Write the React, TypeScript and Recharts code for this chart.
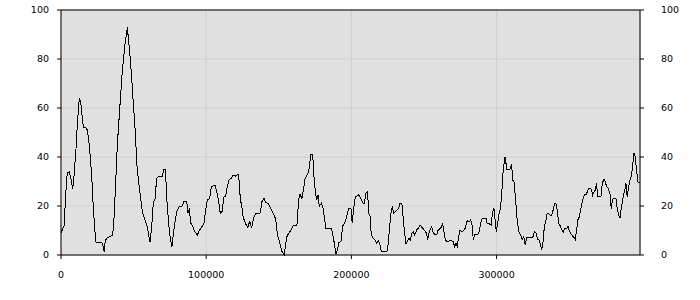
import React from "react";
import {
  LineChart,
  Line,
  XAxis,
  YAxis,
  CartesianGrid,
  ReferenceLine,
} from "recharts";

// sample position along the run
const sampleX = [
  0, 2100, 3400, 4300, 5700, 6900, 8100, 9000, 10300, 11200, 12600, 13600,
  14500, 15400, 17200, 18100, 19500, 21100, 22200, 23400, 24100, 28000, 29100,
  29800, 30500, 31900, 33300, 35600, 36500, 37700, 38800, 40600, 42200, 44100,
  45700, 46300, 47500, 48700, 49800, 50800, 51400, 52500, 54200, 56000, 57900,
  59400, 60600, 61300, 62500, 63600, 64700, 65900, 67000, 69800, 70900, 71800,
  72500, 73200, 74600, 75500, 76400, 77300, 78700, 80100, 81500, 83500, 84700,
  86600, 87500, 88400, 89300, 90400, 92100, 93900, 95500, 97300, 98500, 99700,
  100800, 102400, 103500, 104700, 106300, 107600, 108800, 109700, 110900,
  112300, 113400, 114500, 115900, 117300, 118500, 120000, 121000, 121900,
  122600, 123500, 124700, 125600, 126500, 127600, 128800, 130000, 131300,
  132700, 134100, 135700, 137300, 138400, 139800, 141000, 142600, 144100,
  146000, 147200, 148300, 149000, 150100, 151300, 152200, 153700, 154500,
  155600, 156800, 158400, 159800, 161400, 162500, 163200, 164100, 164800,
  166000, 166900, 168200, 169400, 170600, 171300, 172000, 173300, 173800,
  174400, 175100, 176100, 177000, 177900, 179300, 180600, 181600, 182500,
  186200, 187100, 188200, 189400, 190600, 191300, 192800, 194000, 195400,
  196500, 198100, 199700, 200600, 201600, 202700, 203900, 205000, 206400,
  207800, 208900, 210100, 211200, 211900, 212800, 213700, 215100, 216500,
  217400, 218800, 219700, 220600, 224500, 225400, 226600, 227500, 228400,
  229100, 230200, 231600, 232600, 233500, 234800, 235700, 236700, 237600,
  238500, 239500, 240600, 241700, 242600, 243600, 245000, 246100, 247200,
  248600, 250200, 251800, 252500, 253600, 254800, 255300, 256400, 257600,
  258700, 259800, 261500, 262900, 263800, 264700, 266000, 267400, 269100,
  270200, 271100, 272000, 272900, 273900, 274800, 276200, 277500, 278400,
  279800, 281200, 282200, 283100, 284000, 284900, 286300, 287700, 288600,
  289700, 290800, 292700, 293600, 295000, 296300, 297300, 298200, 299100,
  299800, 300800, 301600, 302800, 303700, 304600, 305800, 306500, 307000,
  309200, 310400, 311100, 312000, 313200, 313800, 314500, 315400, 316600,
  317700, 318700, 319800, 320700, 324200, 325300, 326000, 327100, 328300,
  329400, 330400, 331000, 332200, 332900, 333800, 334900, 335900, 336800,
  337900, 339000, 340000, 340900, 341800, 342800, 344100, 345000, 345900,
  347100, 348300, 349200, 350100, 351400, 352800, 354200, 355200, 355900,
  357000, 358100, 359300, 360400, 361600, 362500, 363400, 364800, 365700,
  366200, 367100, 368000, 368900, 369600, 371900, 372800, 374000, 374900,
  375800, 376900, 378100, 379000, 379900, 380800, 382200, 383100, 384100,
  385000, 385900, 386800, 387700, 388600, 389100, 390000, 391000, 391900,
  392800, 393700, 394600, 395500, 396500, 397400, 398800,
];

// measured value (percent)
const level = [
  9, 12, 26, 33.5, 34, 31, 27, 32.6, 43, 53, 64, 62.5, 57, 52, 52, 51, 45,
  32.6, 20, 9.4, 5.3, 5.3, 3.3, 1.2, 6, 7, 7.5, 8, 15, 30, 45, 61, 75, 86, 93,
  89, 81.6, 72, 62, 54, 47, 34.7, 26.5, 17.6, 14.3, 11.6, 7.5, 5.4, 11.6, 21.8,
  22.4, 31.4, 32, 32.2, 35, 35, 28, 19.7, 10.2, 6, 3.4, 8.2, 14.3, 18.4, 19.7,
  20, 21.8, 21.8, 17, 19, 13, 12.2, 9.5, 8.2, 10.2, 11.8, 13, 18.4, 22.4, 23,
  27.7, 28.2, 28.2, 25, 21, 17, 17.7, 23.8, 23.8, 27.9, 30.9, 31.3, 32.6, 32.2,
  32.6, 33, 30.6, 23.1, 19, 15, 14, 12.2, 11.3, 14, 10.9, 15, 17, 16.7, 17.3,
  21.8, 23.1, 21.3, 21.1, 19.5, 17.3, 15.9, 12.9, 8.2, 6.1, 3.4, 1.5, 0, 3.4,
  7.5, 8.8, 10.2, 11.8, 12.2, 12.2, 18.4, 24.5, 24.5, 23.1, 26.5, 31.3, 32.6,
  34, 37.4, 41.2, 41.2, 36.7, 30.6, 26.5, 22.4, 24.5, 20, 21.1, 19, 14.3, 10.9,
  10.9, 8.8, 5, 0.4, 2.7, 5, 5.4, 11.8, 12.9, 15, 19, 19, 12.9, 19, 23.8, 24.1,
  24.5, 23.1, 21.3, 21.1, 25.2, 25.8, 17, 16.3, 8.2, 6.8, 6.1, 4.8, 5.8, 4.1,
  1.3, 1.3, 4.8, 12.9, 18.4, 19.5, 17, 17.7, 18.4, 19, 21.1, 21.1, 15, 8.8,
  4.5, 5.4, 6.8, 6.1, 8.8, 9.5, 8.2, 10.2, 10.9, 12.2, 11.3, 10.2, 8.8, 6.1,
  9.5, 10.9, 11.6, 9.1, 8.2, 8.2, 10.2, 10.9, 12.7, 9.5, 6.1, 5.4, 5.8, 5.8,
  5.4, 3.4, 4.8, 3.4, 7.5, 10.2, 9.5, 10.2, 10.9, 14, 13.6, 14.3, 12.2, 6.1,
  8.2, 8.2, 8.8, 11.6, 14.6, 15, 15, 12.7, 12.7, 12.2, 17.7, 19, 13.6, 9.5,
  12.9, 16.3, 19.7, 26.5, 35, 40.1, 37.4, 35, 35, 37.1, 30.6, 29.9, 22.4, 17,
  12.9, 9.5, 8.2, 6.4, 7.5, 4.1, 7.2, 7.2, 7.5, 9.5, 9.1, 6.4, 6.1, 4.1, 2,
  6.1, 11.6, 13.6, 17, 17, 16.3, 16.3, 18.4, 21.1, 21.1, 18.4, 12.9, 11.6,
  10.2, 9.3, 10.9, 10.9, 11.8, 9.9, 8.6, 7.5, 6.4, 10.2, 14.3, 15.6, 19, 22.4,
  24.5, 24.5, 25.8, 27.2, 27.2, 25.8, 24.5, 25.8, 26.5, 29.3, 23.8, 23.8, 29.3,
  30.9, 29.9, 27.9, 27.2, 25.2, 19, 22.7, 23.1, 23.1, 19, 16.3, 15, 19, 22.4,
  25.2, 27.2, 29.3, 23.8, 27.9, 30.6, 32.2, 36, 41.8, 40.1, 34, 29.9, 29.3,
];

const xTicks = [0, 100000, 200000, 300000];
const yTicks = [0, 20, 40, 60, 80, 100];

const data = sampleX.map((x, i) => ({ x, v: level[i] }));

const tickStyle = {
  fontFamily: "DejaVu Sans",
  fontSize: 9.5,
  fill: "#000",
};

export default function App() {
  return (
    <div style={{ position: "absolute", left: 0, top: 0 }}>
      <LineChart
        width={700}
        height={300}
        data={data}
        margin={{ top: 10, right: 0, bottom: 0, left: 0 }}
      >
        <CartesianGrid
          yAxisId="left"
          fill="#e0e0e0"
          stroke="#cfcfcf"
        />
        <XAxis
          dataKey="x"
          type="number"
          domain={[0, "dataMax"]}
          ticks={xTicks}
          height={45}
          tickSize={4}
          tickMargin={12}
          stroke="#000"
          tick={tickStyle}
        />
        <YAxis
          yAxisId="left"
          domain={[0, 100]}
          ticks={yTicks}
          width={61}
          tickSize={4}
          tickMargin={8}
          stroke="#000"
          tick={tickStyle}
        />
        <YAxis
          yAxisId="right"
          orientation="right"
          domain={[0, 100]}
          ticks={yTicks}
          width={60}
          tickSize={4}
          tickMargin={17}
          stroke="#000"
          tick={tickStyle}
        />
        <ReferenceLine yAxisId="left" y={100} stroke="#000" />
        {/* keeps the right scale bound to the same series, drawn invisibly */}
        <Line
          yAxisId="right"
          type="linear"
          dataKey="v"
          stroke="none"
          dot={false}
          activeDot={false}
          legendType="none"
          isAnimationActive={false}
        />
        <Line
          yAxisId="left"
          type="linear"
          dataKey="v"
          stroke="#000"
          strokeWidth={1}
          shapeRendering="crispEdges"
          dot={false}
          isAnimationActive={false}
        />
      </LineChart>
    </div>
  );
}
